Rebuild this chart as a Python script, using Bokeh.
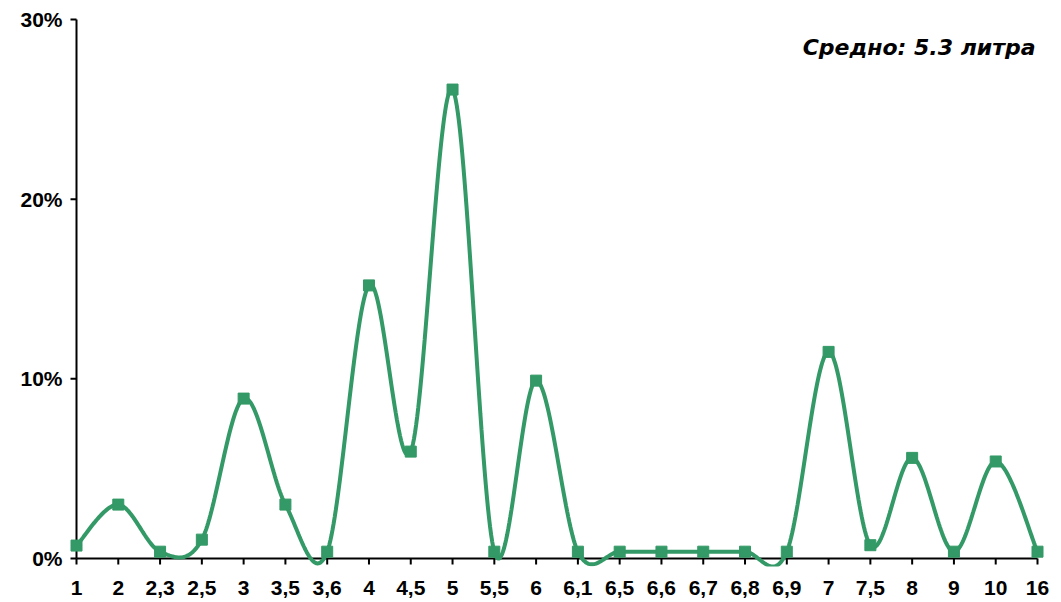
import numpy as np
from bokeh.plotting import figure
from bokeh.models import Range1d, FixedTicker, Label
from bokeh.embed import file_html
from bokeh.resources import INLINE

categories = ["1", "2", "2,3", "2,5", "3", "3,5", "3,6", "4", "4,5", "5", "5,5", "6",
              "6,1", "6,5", "6,6", "6,7", "6,8", "6,9", "7", "7,5", "8", "9", "10", "16"]
shares = [0.72, 3.0, 0.38, 1.05, 8.9, 3.0, 0.38, 15.2, 5.95, 26.1, 0.38, 9.9,
          0.38, 0.38, 0.38, 0.38, 0.38, 0.38, 11.5, 0.74, 5.6, 0.38, 5.4, 0.38]
y_ticks = [0, 10, 20, 30]
y_tick_labels = ["0%", "10%", "20%", "30%"]
note = "Средно: 5.3 литра"

GREEN = "#339966"
FONT = "Liberation Sans"

xs = np.arange(len(categories), dtype=float)
ys = np.array(shares, dtype=float)

# Excel-like smoothed line (Catmull-Rom / Bezier with 1/6 tension)
px = np.concatenate([[xs[0]], xs, [xs[-1]]])
py = np.concatenate([[ys[0]], ys, [ys[-1]]])
cx, cy = [], []
t = np.linspace(0, 1, 40)
for i in range(len(xs) - 1):
    p0 = np.array([xs[i], ys[i]])
    p3 = np.array([xs[i + 1], ys[i + 1]])
    pm = np.array([px[i], py[i]])
    pp = np.array([px[i + 3], py[i + 3]])
    c1 = p0 + (p3 - pm) / 6.0
    c2 = p3 - (pp - p0) / 6.0
    b = ((1 - t) ** 3)[:, None] * p0 + (3 * (1 - t) ** 2 * t)[:, None] * c1 \
        + (3 * (1 - t) * t ** 2)[:, None] * c2 + (t ** 3)[:, None] * p3
    cx.extend(b[:, 0]); cy.extend(b[:, 1])

n = len(categories) - 1
xscale = 961.0 / n          # px per category
yscale = 539.0 / 30.0       # px per percent
padx = 12.0 / xscale
pady_bottom = 8.0 / yscale
pady_top = 2.0 / yscale
tick_len = 6.0

p = figure(width=1053, height=600, output_backend="svg", toolbar_location=None,
           x_range=Range1d(-padx, n + padx),
           y_range=Range1d(-pady_bottom, 30 + pady_top),
           min_border_left=64, min_border_right=4, min_border_top=17, min_border_bottom=34)
p.outline_line_color = None
p.grid.visible = False
p.background_fill_color = "white"
p.border_fill_color = "white"

# axis lines and tick marks drawn at data zero
p.segment(x0=[0], y0=[0], x1=[0], y1=[max(y_ticks)], line_color="black", line_width=2)
p.segment(x0=[0], y0=[0], x1=[n], y1=[0], line_color="black", line_width=2)
p.segment(x0=[-tick_len / xscale] * len(y_ticks), y0=y_ticks,
          x1=[0] * len(y_ticks), y1=y_ticks, line_color="black", line_width=2)
p.segment(x0=list(xs), y0=[-tick_len / yscale] * len(xs),
          x1=list(xs), y1=[0] * len(xs), line_color="black", line_width=2)

p.xaxis.ticker = FixedTicker(ticks=list(range(len(categories))))
p.xaxis.major_label_overrides = {i: c for i, c in enumerate(categories)}
p.xaxis.axis_line_color = None
p.xaxis.major_tick_line_color = None
p.xaxis.major_tick_in = 0
p.xaxis.major_tick_out = 0
p.xaxis.minor_tick_line_color = None
p.xaxis.major_label_standoff = 14
p.xaxis.major_label_text_font = FONT
p.xaxis.major_label_text_font_style = "bold"
p.xaxis.major_label_text_font_size = "21px"
p.xaxis.major_label_text_color = "black"

p.yaxis.ticker = FixedTicker(ticks=y_ticks)
p.yaxis.major_label_overrides = {v: l for v, l in zip(y_ticks, y_tick_labels)}
p.yaxis.axis_line_color = None
p.yaxis.major_tick_line_color = None
p.yaxis.major_tick_in = 0
p.yaxis.major_tick_out = 0
p.yaxis.minor_tick_line_color = None
p.yaxis.major_label_standoff = 2
p.yaxis.major_label_text_font = FONT
p.yaxis.major_label_text_font_style = "bold"
p.yaxis.major_label_text_font_size = "21px"
p.yaxis.major_label_text_color = "black"

p.line(cx, cy, line_color=GREEN, line_width=4)
p.scatter(xs, ys, marker="square", size=11, fill_color=GREEN, line_color=GREEN)

p.add_layout(Label(x=n, y=28.44, x_offset=-2, text=note, text_align="right",
                   text_baseline="alphabetic",
                   text_font="DejaVu Sans", text_font_style="bold italic",
                   text_font_size="22px", text_color="black"))

open("out.html", "w").write(file_html(p, INLINE))
